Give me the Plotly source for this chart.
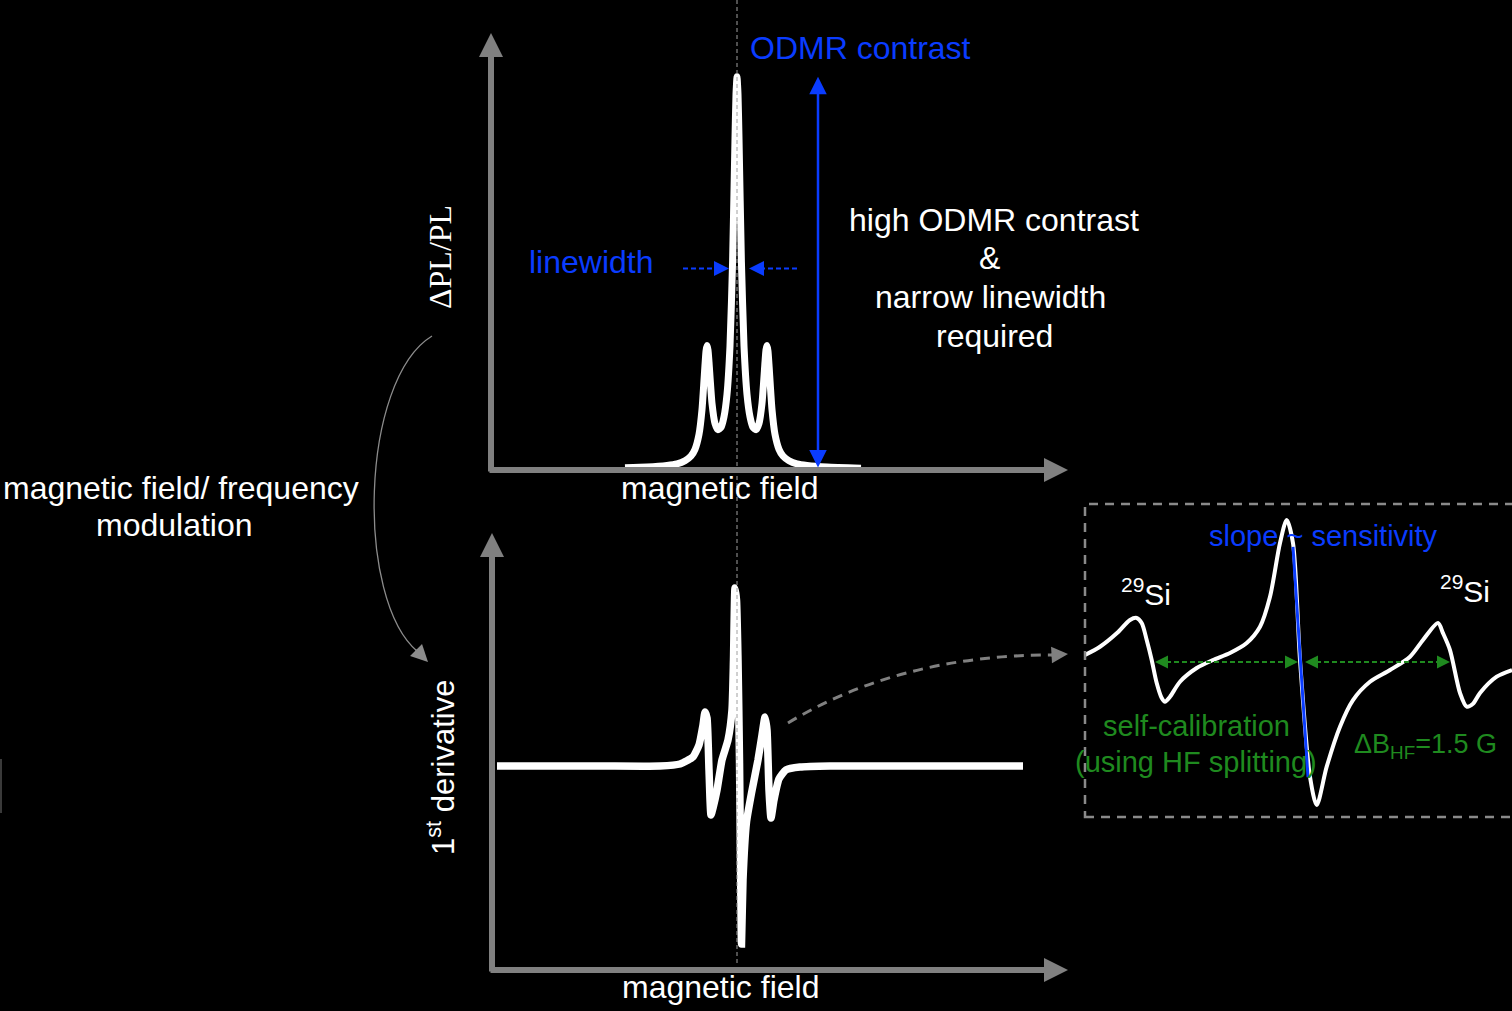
import plotly.graph_objects as go

W, H = 1512, 1011

# ---------------- data ----------------
# top panel: ODMR spectrum, field in hyperfine-ish units, signal normalised to the central peak
odmr_field = [-5.6, -4.5, -3.5, -3.0, -2.6, -2.3, -2.1, -1.9, -1.75, -1.6, -1.55, -1.5, -1.45, -1.4,
              -1.25, -1.1, -0.95, -0.8, -0.65, -0.5, -0.35, -0.22, -0.1, -0.05, 0.0,
              0.05, 0.1, 0.22, 0.35, 0.5, 0.65, 0.8, 0.95, 1.1, 1.25, 1.4, 1.45, 1.5, 1.55, 1.6,
              1.75, 1.9, 2.1, 2.3, 2.6, 3.0, 3.5, 4.5, 6.2]
odmr_signal = [0.003, 0.005, 0.009, 0.013, 0.021, 0.033, 0.050, 0.088, 0.151, 0.265, 0.300, 0.314, 0.303, 0.272,
               0.167, 0.116, 0.100, 0.106, 0.133, 0.190, 0.313, 0.528, 0.842, 0.954, 0.998,
               0.954, 0.842, 0.528, 0.313, 0.190, 0.133, 0.106, 0.100, 0.116, 0.167, 0.272, 0.303, 0.314, 0.300, 0.265,
               0.151, 0.088, 0.050, 0.033, 0.021, 0.013, 0.009, 0.005, 0.002]

# bottom panel: first derivative
deriv_field = [-12.0, -6.85, -3.85, -2.85, -2.2, -1.9, -1.7, -1.6, -1.5, -1.4, -1.3, -1.2, -1.0, -0.75,
               -0.45, -0.25, -0.175, -0.1, -0.025, 0.05, 0.125, 0.175, 0.225, 0.3, 0.475, 0.725, 1.05,
               1.25, 1.4, 1.5, 1.6, 1.7, 1.85, 2.1, 2.45, 3.15, 4.65, 14.3]
deriv_signal = [0, 0, 0, 0.011, 0.051, 0.118, 0.230, 0.303, 0.27, -0.022, -0.275, -0.236, -0.135, 0.034,
                0.146, 0.315, 0.596, 1.0, 0.933, 0.596, 0.034, -0.528, -1.0, -0.64, -0.315, -0.152, 0.034,
                0.174, 0.275, 0.202, -0.135, -0.292, -0.191, -0.073, -0.022, -0.006, 0, 0]

# inset: zoomed derivative, field in G
inset_field = [-2.16, -2.01, -1.84, -1.71, -1.643, -1.593, -1.543, -1.493, -1.443, -1.393,
               -1.36, -1.31, -1.21, -1.043, -0.88, -0.71, -0.543, -0.41, -0.31, -0.21,
               -0.143, -0.08, -0.01, 0.09, 0.157, 0.257, 0.39, 0.52, 0.69, 0.89,
               1.09, 1.22, 1.37, 1.42, 1.49, 1.59, 1.657, 1.72, 1.79, 1.957, 2.11]
inset_signal = [0.049, 0.106, 0.201, 0.292, 0.306, 0.271, 0.153, 0.014, -0.146, -0.25,
                -0.276, -0.241, -0.137, -0.042, 0.014, 0.063, 0.132, 0.245, 0.453, 0.826,
                0.986, 0.826, 0.014, -0.797, -0.993, -0.727, -0.449, -0.264, -0.137, -0.056,
                0.037, 0.153, 0.271, 0.2, 0.083, -0.215, -0.31, -0.29, -0.215, -0.102, -0.056]

hf_centers = [-1.46, 0.0, 1.49]          # zero crossings used for the HF splitting arrows (G)
slope_x = [-0.08, 0.07]
slope_y = [0.799, -0.799]
linewidth_level = 0.51                   # half maximum
linewidth_tips = [-0.4, 0.6]
contrast_x = 4.05

# ---------------- styling ----------------
BLUE = "#0a3cff"
GREEN = "#1f8a1f"
GRAY = "#808080"
WHITE = "#ffffff"
SANS = "Liberation Sans, Arial, Helvetica, sans-serif"
SERIF = "Liberation Serif, Times New Roman, serif"


def fx(p):
    return p / W


def fy(p):
    return 1 - p / H


def axis_cfg(p_lo, p_hi, p_zero, px_per_unit, vertical):
    """domain & range for an axis whose value 0 sits at pixel p_zero"""
    if vertical:
        dom = [fy(p_hi), fy(p_lo)]
        rng = [(p_zero - p_hi) / px_per_unit, (p_zero - p_lo) / px_per_unit]
    else:
        dom = [fx(p_lo), fx(p_hi)]
        rng = [(p_lo - p_zero) / px_per_unit, (p_hi - p_zero) / px_per_unit]
    return dict(domain=dom, range=rng, visible=False, showgrid=False, zeroline=False, fixedrange=True)


fig = go.Figure()
fig.add_trace(go.Scatter(x=odmr_field, y=odmr_signal, mode="lines", xaxis="x", yaxis="y",
                         line=dict(color=WHITE, width=7, shape="spline", smoothing=0.5), hoverinfo="skip"))
fig.add_trace(go.Scatter(x=deriv_field, y=deriv_signal, mode="lines", xaxis="x2", yaxis="y2",
                         line=dict(color=WHITE, width=7.5, shape="spline", smoothing=0.5), hoverinfo="skip"))
fig.add_trace(go.Scatter(x=inset_field, y=inset_signal, mode="lines", xaxis="x3", yaxis="y3",
                         line=dict(color=WHITE, width=4, shape="spline", smoothing=0.8), hoverinfo="skip"))

shapes = []
ann = []


def arrow_px(tip, tail, color, width, size, head=2):
    ann.append(dict(x=fx(tip[0]), y=fy(tip[1]), xref="paper", yref="paper",
                    ax=tail[0] - tip[0], ay=tail[1] - tip[1], axref="pixel", ayref="pixel",
                    showarrow=True, arrowhead=head, arrowwidth=width, arrowsize=size,
                    arrowcolor=color, text="", standoff=0))


# main gray axes
arrow_px((491, 33), (491, 473), GRAY, 6, 0.8)
arrow_px((1068, 470), (488, 470), GRAY, 6, 0.8)
arrow_px((492, 533), (492, 973), GRAY, 6, 0.8)
arrow_px((1068, 970), (489, 970), GRAY, 6, 0.8)

# vertical dashed centre line (field = 0)
shapes.append(dict(type="line", xref="x", yref="paper", x0=0, x1=0, y0=fy(963), y1=1,
                   line=dict(color="#a0a0a0", width=1, dash="4px,3px")))

# ODMR contrast double arrow (0 -> peak)
ann.append(dict(x=contrast_x, y=max(odmr_signal), xref="x", yref="y",
                ax=contrast_x, ay=0, axref="x", ayref="y", showarrow=True,
                arrowhead=2, startarrowhead=2, arrowside="end+start", arrowwidth=2.5,
                arrowsize=1.4, startarrowsize=1.4, arrowcolor=BLUE, text="", standoff=0, startstandoff=0))

# linewidth arrows
shapes.append(dict(type="line", xref="x", yref="y", x0=-2.7, x1=linewidth_tips[0] - 0.7,
                   y0=linewidth_level, y1=linewidth_level, line=dict(color=BLUE, width=2, dash="5px,3px")))
shapes.append(dict(type="line", xref="x", yref="y", x0=3.0, x1=linewidth_tips[1] + 0.7,
                   y0=linewidth_level, y1=linewidth_level, line=dict(color=BLUE, width=2, dash="5px,3px")))
for tip, off in [(linewidth_tips[0], -15), (linewidth_tips[1], 15)]:
    ann.append(dict(x=tip, y=linewidth_level, xref="x", yref="y", ax=off, ay=0, showarrow=True,
                    arrowhead=2, arrowwidth=2, arrowsize=1.5, arrowcolor=BLUE, text="", standoff=0))

# inset dashed box
shapes.append(dict(type="rect", xref="paper", yref="paper", x0=fx(1085), x1=fx(1535), y0=fy(817), y1=fy(504),
                   line=dict(color="#8a8a8a", width=2.5, dash="9px,7px")))

# HF splitting arrows (green, dashed, double headed)
for a, b in [(hf_centers[0], hf_centers[1] - 0.03), (hf_centers[1] + 0.04, hf_centers[2])]:
    shapes.append(dict(type="line", xref="x3", yref="y3", x0=a + 0.11, x1=b - 0.11, y0=0, y1=0,
                       line=dict(color=GREEN, width=2, dash="5px,3px")))
    ann.append(dict(x=a, y=0, xref="x3", yref="y3", ax=14, ay=0, showarrow=True, arrowhead=2,
                    arrowwidth=2, arrowsize=1.3, arrowcolor=GREEN, text="", standoff=0))
    ann.append(dict(x=b, y=0, xref="x3", yref="y3", ax=-14, ay=0, showarrow=True, arrowhead=2,
                    arrowwidth=2, arrowsize=1.3, arrowcolor=GREEN, text="", standoff=0))

# slope line
shapes.append(dict(type="line", xref="x3", yref="y3", x0=slope_x[0], x1=slope_x[1], y0=slope_y[0], y1=slope_y[1],
                   line=dict(color=BLUE, width=3)))

# dashed gray curve from derivative to inset
shapes.append(dict(type="path", xref="paper", yref="paper",
                   path=f"M {fx(788)},{fy(723)} Q {fx(900)},{fy(655)} {fx(1052)},{fy(655)}",
                   line=dict(color=GRAY, width=3, dash="10px,7px")))
arrow_px((1068, 654), (1050, 655), GRAY, 3, 1.1)

# thin curved arrow on the left
shapes.append(dict(type="path", xref="paper", yref="paper",
                   path=f"M {fx(432)},{fy(336)} C {fx(360)},{fy(380)} {fx(355)},{fy(600)} {fx(418)},{fy(652)}",
                   line=dict(color="#8c8c8c", width=1.3)))
arrow_px((428, 662), (414, 648), "#8c8c8c", 1.3, 2.6)

# small mark at left edge
shapes.append(dict(type="line", xref="paper", yref="paper", x0=fx(1), x1=fx(1), y0=fy(813), y1=fy(759),
                   line=dict(color="#3a3a3a", width=2)))


def text(t, x, y, color=WHITE, size=32, family=SANS, xanchor="center", angle=0):
    ann.append(dict(text=t, x=fx(x), y=fy(y), xref="paper", yref="paper", showarrow=False,
                    xanchor=xanchor, yanchor="middle", textangle=angle,
                    font=dict(color=color, size=size, family=family)))


text("ODMR contrast", 748, 48, BLUE, xanchor="left")
text("linewidth", 591, 262, BLUE)
text("high ODMR contrast", 994, 220)
text("&", 989, 258)
text("narrow linewidth", 990, 297)
text("required", 994, 336)
text("magnetic field", 719, 488)
text("magnetic field", 720, 987)
text("magnetic field/ frequency", 1, 488, xanchor="left")
text("modulation", 174, 525)
text("ΔPL/PL", 440, 257, family=SERIF, size=32, angle=-90)
text("1<sup>st</sup> derivative", 441, 768, size=31, angle=-90)
text("slope ~ sensitivity", 1323, 536, BLUE, size=29)
text("<sup>29</sup>Si", 1146, 592, size=30)
text("<sup>29</sup>Si", 1465, 589, size=30)
text("self-calibration", 1196, 726, GREEN, size=29)
text("(using HF splitting)", 1196, 762, GREEN, size=29)
text("ΔB<sub>HF</sub>=1.5 G", 1425, 746, GREEN, size=27)

fig.update_layout(
    width=W, height=H, margin=dict(l=0, r=0, t=0, b=0),
    paper_bgcolor="black", plot_bgcolor="black", showlegend=False,
    xaxis=axis_cfg(480, 1080, 737, 20, False),
    yaxis=axis_cfg(20, 480, 469, 393, True),
    xaxis2=dict(axis_cfg(480, 1080, 737, 20, False), anchor="y2"),
    yaxis2=dict(axis_cfg(520, 1000, 766, 178, True), anchor="x2"),
    xaxis3=dict(axis_cfg(1085, 1512, 1301, 100, False), anchor="y3"),
    yaxis3=dict(axis_cfg(505, 817, 662, 144, True), anchor="x3"),
    shapes=shapes, annotations=ann,
)

fig.write_html("out.html", config={"displayModeBar": False},
               post_script="document.body.style.margin='0';document.body.style.overflow='hidden';")
